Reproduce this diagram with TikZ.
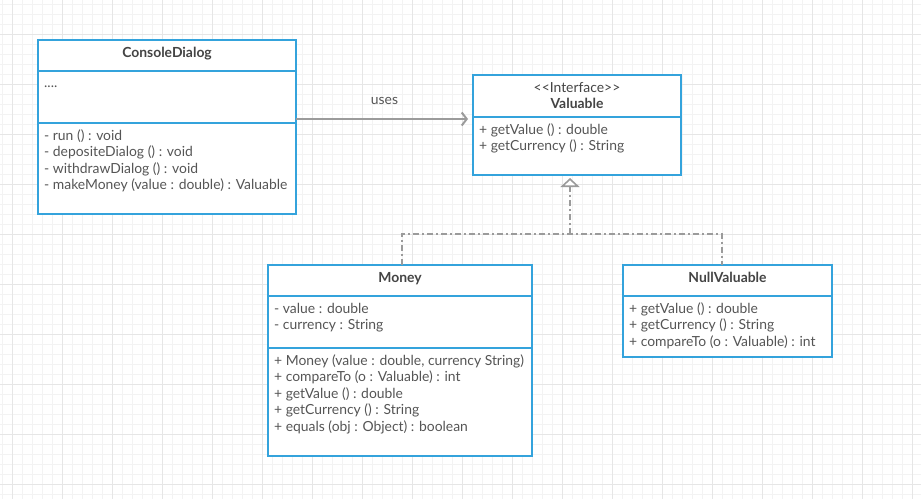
\documentclass[tikz,border=0pt]{standalone}
\usepackage{fontspec}
\setmainfont{Lato}
\usepackage{xcolor}
\usepackage{tikz}
\usetikzlibrary{arrows.meta, positioning, calc}

\definecolor{umlblue}{RGB}{52,163,220}
\definecolor{linegray}{RGB}{155,155,155}
\definecolor{textgray}{RGB}{85,85,85}
\definecolor{titlegray}{RGB}{68,68,68}
\definecolor{gridminor}{RGB}{243,243,243}
\definecolor{gridmajor}{RGB}{230,230,230}

\begin{document}
\begin{tikzpicture}[x=1pt,y=-1pt,
		compartment/.style={draw=umlblue,line width=2pt,fill=white,outer sep=0pt,inner sep=0pt},
		class name/.style={anchor=base,inner sep=0pt,align=center,text=titlegray,font=\bfseries\fontsize{13.9}{16.5}\selectfont},
		member text/.style={anchor=base west,inner sep=0pt,align=left,text=textgray,font=\fontsize{13.9}{16.6}\selectfont},
		uses arrow/.style={draw=linegray,line width=2pt,shorten >=5pt,-{Straight Barb[length=5pt,width=13pt]}},
		realizes/.style={draw=linegray,line width=1.6pt,dash pattern=on 6pt off 3pt on 2pt off 3pt}]
	
	% background grid
	\useasboundingbox (0,0) rectangle (921,498);
	\begin{scope}
		\clip (0,0) rectangle (921,498);
		\fill[white] (0,0) rectangle (921,498);
		\draw[gridminor,line width=1pt,shift={(2.7,4.3)}] (-10,510) grid[step=10pt] (930,-10);
		\draw[gridmajor,line width=1pt,shift={(12.7,34.3)}] (-50,510) grid[step=50pt] (930,-50);
	\end{scope}
	
	% ConsoleDialog (text nodes sit on the baseline of their last line)
	\node[compartment,anchor=north west,minimum width=258pt,minimum height=31pt] (cdname) at (38,40) {};
	\node[compartment,minimum width=258pt,minimum height=52pt,below=0pt of cdname] (cdattr) {};
	\node[compartment,minimum width=258pt,minimum height=91pt,below=0pt of cdattr] (cdops) {};
	\node[class name] (cdtitle) at (167,57) {ConsoleDialog};
	\node[member text] (cdattrtext) at (44,87) {....};
	\node[member text] (cdopstext) at (44,189.8) {- run () : void\\- depositeDialog () : void\\- withdrawDialog () : void\\- makeMoney (value : double) : Valuable};
	
	% Valuable
	\node[compartment,anchor=north west,minimum width=208pt,minimum height=42pt] (vlname) at (473,75) {};
	\node[compartment,minimum width=208pt,minimum height=58pt,below=0pt of vlname] (vlops) {};
	\node[class name] (vltitle) at (577,108.5) {\mdseries{<}{<}Interface{>}{>}\\Valuable};
	\node[member text] (vlopstext) at (479,150.6) {+ getValue () : double\\+ getCurrency () : String};
	
	% Money
	\node[compartment,anchor=north west,minimum width=264pt,minimum height=31pt] (mnname) at (268,265) {};
	\node[compartment,minimum width=264pt,minimum height=52pt,below=0pt of mnname] (mnattr) {};
	\node[compartment,minimum width=264pt,minimum height=108pt,below=0pt of mnattr] (mnops) {};
	\node[class name] (mntitle) at (400,282.5) {Money};
	\node[member text] (mnattrtext) at (274,329.6) {- value : double\\- currency : String};
	\node[member text] (mnopstext) at (274,431.4) {+ Money (value : double, currency String)\\+ compareTo (o : Valuable) : int\\+ getValue () : double\\+ getCurrency () : String\\+ equals (obj : Object) : boolean};
	
	% NullValuable
	\node[compartment,anchor=north west,minimum width=209pt,minimum height=31pt] (nvname) at (623,265) {};
	\node[compartment,minimum width=209pt,minimum height=61pt,below=0pt of nvname] (nvops) {};
	\node[class name] (nvtitle) at (727.5,282.5) {NullValuable};
	\node[member text] (nvopstext) at (629,346.2) {+ getValue () : double\\+ getCurrency () : String\\+ compareTo (o : Valuable) : int};
	
	% connectors
	\coordinate (split) at (570,234);
	\draw[uses arrow] ([yshift=4pt]cdops.north east) -- ([yshift=4pt]cdops.north east -| vlname.west)
		node[midway,above=13pt,inner sep=0pt,text=textgray,font=\fontsize{13.9}{16}\selectfont] (useslabel) {uses};
	\draw[realizes] ([xshift=2pt]mnname.north) |- (split) -| ([xshift=-5.5pt]nvname.north);
	\draw[realizes,shorten >=3pt,-{Triangle[open,length=9pt,width=19pt,fill=white]}] (split) -- (split |- vlops.south);
\end{tikzpicture}
\end{document}
